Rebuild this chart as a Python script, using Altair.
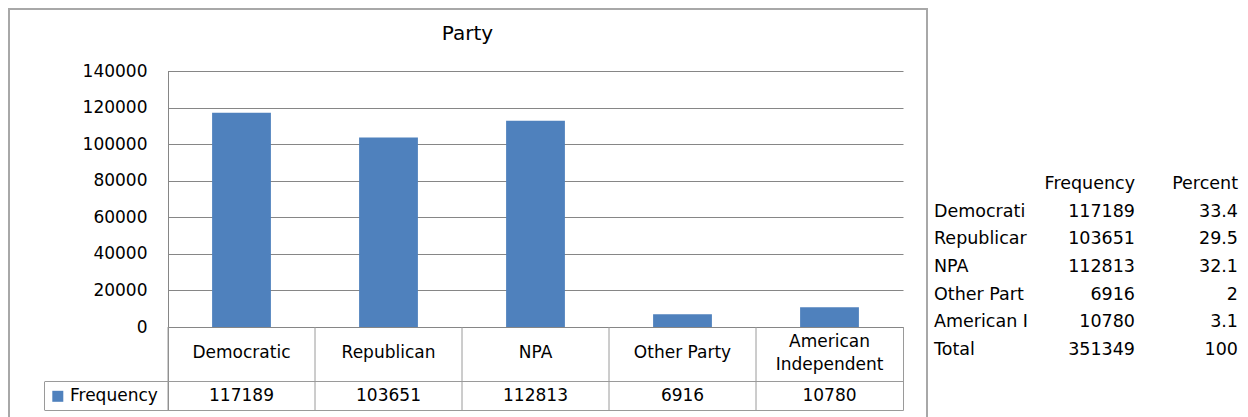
import altair as alt
import pandas as pd

# ---- data ----
chart_title = "Party"
parties = ["Democratic", "Republican", "NPA", "Other Party", "American Independent"]
party_labels = ["Democratic", "Republican", "NPA", "Other Party", "American\nIndependent"]
frequency = [117189, 103651, 112813, 6916, 10780]
y_ticks = [0, 20000, 40000, 60000, 80000, 100000, 120000, 140000]
legend_label = "Frequency"

table_labels = ["Democrati", "Republicar", "NPA", "Other Part", "American I", "Total"]
table_freq = ["117189", "103651", "112813", "6916", "10780", "351349"]
table_pct = ["33.4", "29.5", "32.1", "2", "3.1", "100"]
table_headers = ["Frequency", "Percent"]

# ---- style ----
FONT = "DejaVu Sans"
BLUE = "#4F81BD"
GRID = "#868686"
LINE = "#9a9a9a"
FRAME = "#a8a8a8"
W, H = 735, 256
LH = 23

df = pd.DataFrame({"party": parties, "label": party_labels, "freq": frequency})
one = pd.DataFrame({"k": [0]})

xscale = alt.Scale(domain=parties, paddingInner=0.6, paddingOuter=0.3)
X = alt.X("party:N", scale=xscale, axis=None, sort=parties)

frame = alt.Chart(one).mark_rect(fillOpacity=0, stroke=FRAME, strokeWidth=2).encode(
    x=alt.value(-159), x2=alt.value(759), y=alt.value(-62), y2=alt.value(420)
)

title = alt.Chart(one).mark_text(font=FONT, fontSize=20, color="black", baseline="middle").encode(
    x=alt.value(299.5), y=alt.value(-37), text=alt.value(chart_title)
)

bars = alt.Chart(df).mark_bar(color=BLUE).encode(
    x=X,
    y=alt.Y("freq:Q", scale=alt.Scale(domain=[0, 140000], nice=False),
            axis=alt.Axis(values=y_ticks, title=None, grid=True, gridColor=GRID, gridWidth=1,
                          domain=False, ticks=False, tickSize=0, labelPadding=21,
                          labelFont=FONT, labelFontSize=17, labelColor="black", format="d")),
)

yaxis_line = alt.Chart(one).mark_rule(color=GRID).encode(
    x=alt.value(0.5), y=alt.value(0), y2=alt.value(339.5)
)

col_rules = alt.Chart(df).mark_rule(color=LINE, xOffset=-73.5).encode(
    x=X, y=alt.value(256), y2=alt.value(339.5)
)
right_rule = alt.Chart(one).mark_rule(color=LINE).encode(
    x=alt.value(735.5), y=alt.value(256), y2=alt.value(339.5)
)
hrule1 = alt.Chart(one).mark_rule(color=LINE).encode(
    x=alt.value(-123), x2=alt.value(735.5), y=alt.value(310.5)
)
hrule2 = alt.Chart(one).mark_rule(color=LINE).encode(
    x=alt.value(-123), x2=alt.value(735.5), y=alt.value(339.5)
)
legend_left = alt.Chart(one).mark_rule(color=LINE).encode(
    x=alt.value(-123.5), y=alt.value(310.5), y2=alt.value(339.5)
)

cat_text = alt.Chart(df).transform_calculate(
    ty=f"282 - (length(split(datum.label, '\\n')) - 1) * {LH} / 2"
).mark_text(font=FONT, fontSize=17, color="black", baseline="middle",
            lineBreak="\n", lineHeight=LH).encode(
    x=X, y=alt.Y("ty:Q", scale=None), text="label:N"
)
val_text = alt.Chart(df).mark_text(font=FONT, fontSize=17, color="black", baseline="middle").encode(
    x=X, y=alt.value(324.5), text=alt.Text("freq:Q", format="d")
)

legend_sq = alt.Chart(one).mark_square(color=BLUE, size=121, opacity=1, filled=True).encode(
    x=alt.value(-110.2), y=alt.value(325.3)
)
legend_txt = alt.Chart(one).mark_text(font=FONT, fontSize=17, color="black", baseline="middle",
                                      align="left").encode(
    x=alt.value(-98), y=alt.value(324.5), text=alt.value(legend_label)
)

tbl = pd.DataFrame({
    "row": list(range(len(table_labels) + 1)),
    "lab": [""] + table_labels,
    "fq": [table_headers[0]] + table_freq,
    "pc": [table_headers[1]] + table_pct,
})
Yt = alt.Y("row:O", scale=alt.Scale(type="point", domain=list(range(len(tbl))), range=[113, 279], padding=0),
           axis=None)
t_lab = alt.Chart(tbl).mark_text(font=FONT, fontSize=17.5, color="black", baseline="middle", align="left").encode(
    x=alt.value(766), y=Yt, text="lab:N"
)
t_fq = alt.Chart(tbl).mark_text(font=FONT, fontSize=17.5, color="black", baseline="middle", align="right").encode(
    x=alt.value(967), y=Yt, text="fq:N"
)
t_pc = alt.Chart(tbl).mark_text(font=FONT, fontSize=17.5, color="black", baseline="middle", align="right").encode(
    x=alt.value(1070), y=Yt, text="pc:N"
)

chart = alt.layer(
    frame, title, bars, yaxis_line, col_rules, right_rule, hrule1, hrule2, legend_left,
    cat_text, val_text, legend_sq, legend_txt, t_lab, t_fq, t_pc
).resolve_scale(y="independent").properties(
    width=W, height=H, autosize="none",
    padding={"left": 160, "top": 63, "right": 337, "bottom": 90},
    background="white",
).configure_view(strokeWidth=0)

chart.save("out.html", embed_options={"renderer": "svg", "actions": False})
